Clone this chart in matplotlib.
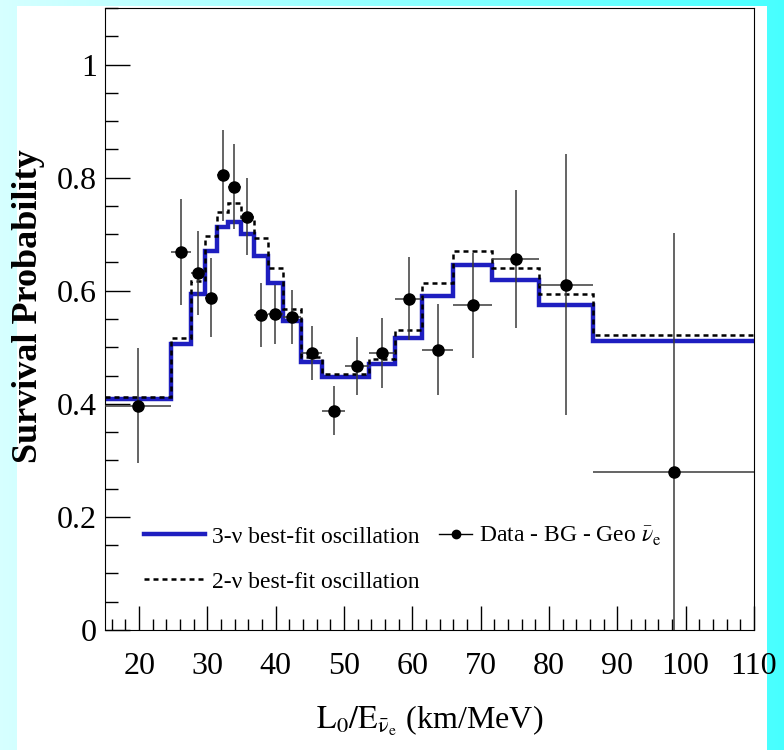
import numpy as np
import matplotlib
matplotlib.use("Agg")
import matplotlib.pyplot as plt
from matplotlib.patches import Rectangle
from matplotlib.lines import Line2D
from matplotlib.ticker import MultipleLocator

plt.rcParams['font.family'] = ['Liberation Serif', 'DejaVu Serif']
plt.rcParams['mathtext.fontset'] = 'stix'

# best-fit oscillation curves (theory binning)
theory_edges = [15, 24.7, 27.6, 29.6, 31.4, 33.0, 34.9, 36.8, 38.8, 41.0, 43.7,
                46.8, 53.7, 57.5, 61.4, 66.0, 71.6, 78.6, 86.5, 110]
prob_3nu = [0.408, 0.506, 0.595, 0.670, 0.712, 0.721, 0.700, 0.662, 0.614, 0.546,
            0.474, 0.447, 0.470, 0.517, 0.590, 0.645, 0.619, 0.574, 0.511]
prob_2nu = [0.412, 0.517, 0.617, 0.697, 0.740, 0.755, 0.731, 0.693, 0.640, 0.567,
            0.483, 0.452, 0.479, 0.530, 0.613, 0.671, 0.640, 0.594, 0.522]

# data - BG - geo (data binning)
data_edges = [15, 24.7, 27.6, 29.6, 31.4, 33.0, 34.9, 36.8, 38.8, 41.0, 43.7,
              46.8, 50.2, 53.7, 57.5, 61.4, 66.0, 71.6, 78.6, 86.5, 110]
data_prob = [0.397, 0.668, 0.631, 0.588, 0.804, 0.784, 0.731, 0.557, 0.558, 0.553,
             0.490, 0.388, 0.467, 0.490, 0.586, 0.496, 0.574, 0.656, 0.611, 0.280]
data_err = [0.102, 0.094, 0.074, 0.070, 0.081, 0.075, 0.068, 0.057, 0.053, 0.048,
            0.047, 0.044, 0.052, 0.062, 0.074, 0.080, 0.093, 0.122, 0.230, 0.422]

edges = np.array(data_edges)
x_data = (edges[:-1] + edges[1:]) / 2
x_lo = x_data - edges[:-1]
x_hi = edges[1:] - x_data

W, H = 784, 750
fig = plt.figure(figsize=(W / 100, H / 100), dpi=100)

# cyan gradient background with white panel
bg = fig.add_axes([0, 0, 1, 1], zorder=-10)
grad = np.linspace(0, 1, 256)
left_c = np.array([0.84, 1.0, 1.0])
right_c = np.array([0.28, 1.0, 1.0])
img = left_c[None, None, :] * (1 - grad)[None, :, None] + right_c[None, None, :] * grad[None, :, None]
bg.imshow(img, aspect='auto', extent=[0, 1, 0, 1])
bg.axis('off')
fig.add_artist(Rectangle((17 / W, 0), (767 - 17) / W, (H - 6) / H,
                         transform=fig.transFigure, facecolor='white',
                         edgecolor='none', zorder=-5))

ax = fig.add_axes([105 / W, (H - 630) / H, (754 - 105) / W, (630 - 8) / H])

ax.stairs(prob_3nu, theory_edges, baseline=None, color='#1e1ec0', lw=3.2,
          label='3-ν best-fit oscillation', zorder=2)
ax.stairs(prob_2nu, theory_edges, baseline=None, color='black', lw=1.8,
          linestyle=(0, (2, 1.6)), label='2-ν best-fit oscillation', zorder=3)
ax.errorbar(x_data, data_prob, xerr=[x_lo, x_hi], yerr=data_err, fmt='o',
            color='black', ms=8, ecolor='#3a3a3a', elinewidth=1.1,
            capsize=0, zorder=4)

ax.set_xlim(15, 110)
ax.set_ylim(0, 1.1)
ax.xaxis.set_minor_locator(MultipleLocator(2))
ax.yaxis.set_minor_locator(MultipleLocator(0.05))
ax.set_xticks(np.arange(20, 111, 10))
ax.set_yticks([0, 0.2, 0.4, 0.6, 0.8, 1.0])
ax.set_yticklabels(['0', '0.2', '0.4', '0.6', '0.8', '1'])
ax.tick_params(which='both', direction='in', top=False, right=False, labelsize=23)
ax.tick_params(axis='x', which='major', length=17, width=1, pad=16)
ax.tick_params(axis='x', which='minor', length=8, width=1)
ax.tick_params(axis='y', which='major', length=18, width=1, pad=6)
ax.tick_params(axis='y', which='minor', length=9, width=1)

ax.set_ylabel('Survival Probability', fontsize=26, fontweight='bold')
ax.yaxis.set_label_coords(-0.092, 0.52)
ax.set_xlabel(r'$\mathrm{L_0/E_{\bar{\nu}_e}}$ (km/MeV)', fontsize=23, labelpad=16)

h1, l1 = ax.get_legend_handles_labels()
leg1 = ax.legend(h1, l1, loc='lower left',
                 bbox_to_anchor=(0.06, 0.06), frameon=False, fontsize=17,
                 handlelength=2.6, handletextpad=0.3, labelspacing=1.0,
                 borderpad=0, borderaxespad=0)
ax.add_artist(leg1)
data_handle = Line2D([], [], color='black', marker='o', ms=6, lw=1)
ax.legend([data_handle], [r'Data - BG - Geo $\bar{\nu}_\mathrm{e}$'], loc='lower left',
          bbox_to_anchor=(0.515, 0.132), frameon=False, fontsize=17,
          handlelength=1.4, handletextpad=0.3, borderpad=0, borderaxespad=0)

fig.savefig('out.png', dpi=100)
